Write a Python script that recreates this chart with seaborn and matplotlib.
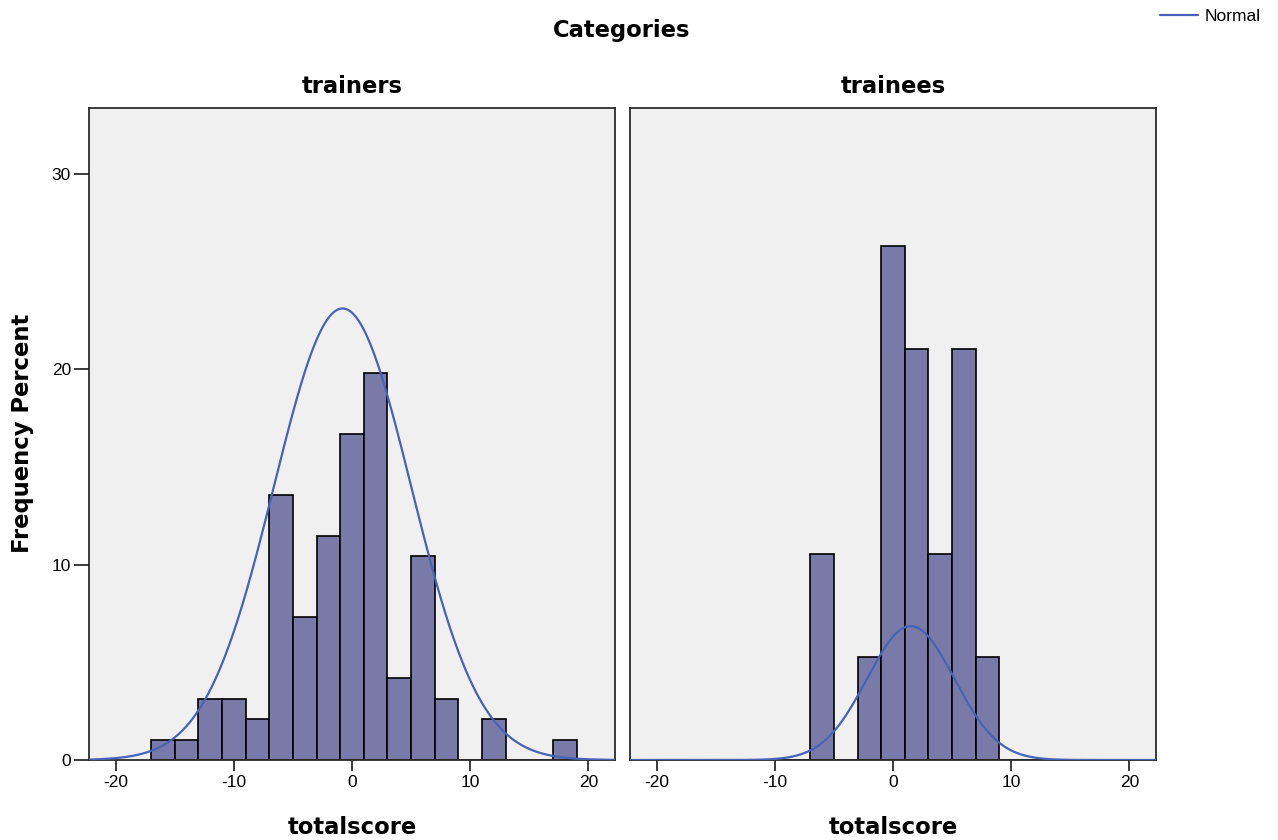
import numpy as np
import pandas as pd
import matplotlib
matplotlib.use("Agg")
import matplotlib.pyplot as plt
import seaborn as sns
from matplotlib.lines import Line2D

# ---------------- data ----------------
bin_edges = list(range(-17, 21, 2))          # -17, -15, ..., 19
bin_centers = [(bin_edges[i] + bin_edges[i + 1]) / 2 for i in range(len(bin_edges) - 1)]

panel_names = ["trainers", "trainees"]

trainers_pct = [1.04, 1.04, 3.13, 3.13, 2.08, 13.54, 7.29, 11.46, 16.67,
                19.79, 4.17, 10.42, 3.13, 0.0, 2.08, 0.0, 0.0, 1.04]
trainees_pct = [0.0, 0.0, 0.0, 0.0, 0.0, 10.53, 0.0, 5.26, 26.32,
                21.05, 10.53, 21.05, 5.26, 0.0, 0.0, 0.0, 0.0, 0.0]

# fitted normal curves (mean, sd, peak height in percent)
normal_mean = [-0.8, 1.5]
normal_sd = [5.8, 3.7]
normal_peak = [23.1, 6.85]

x_ticks = [-20, -10, 0, 10, 20]
y_ticks = [0, 10, 20, 30]

# ---------------- style ----------------
sns.set_theme(style="white")
plt.rcParams['font.family'] = ['Liberation Sans', 'DejaVu Sans']
plt.rcParams['text.color'] = 'black'
plt.rcParams['axes.labelcolor'] = 'black'
plt.rcParams['xtick.color'] = 'black'
plt.rcParams['ytick.color'] = 'black'

BAR_COLOR = "#7a7aa8"
CURVE_COLOR = "#4763b8"
BG = "#f0f0f0"
SPINE = "#2b2b2b"
BOLD = dict(family=['DejaVu Sans'], fontweight='bold', fontsize=16.3, color='black')

W, H = 1278, 840
fig = plt.figure(figsize=(W / 100, H / 100), dpi=100)
fig.patch.set_facecolor("white")

ax_left_px = [89, 630]
ax_w_px = 526
ax_top_px, ax_bot_px = 107.5, 760

data_frames = []
for name, pct in zip(panel_names, [trainers_pct, trainees_pct]):
    data_frames.append(pd.DataFrame({"totalscore": bin_centers, "pct": pct, "panel": name}))
df = pd.concat(data_frames, ignore_index=True)

axes = []
for i, name in enumerate(panel_names):
    ax = fig.add_axes([ax_left_px[i] / W, (H - ax_bot_px) / H,
                       ax_w_px / W, (ax_bot_px - ax_top_px) / H])
    axes.append(ax)
    ax.set_facecolor(BG)
    sub = df[df["panel"] == name]
    sns.histplot(data=sub, x="totalscore", weights="pct", bins=bin_edges,
                 ax=ax, color=BAR_COLOR, edgecolor="black", linewidth=1.2,
                 alpha=1.0, zorder=2)
    xs = np.linspace(-22.25, 22.25, 500)
    ys = normal_peak[i] * np.exp(-0.5 * ((xs - normal_mean[i]) / normal_sd[i]) ** 2)
    sns.lineplot(x=xs, y=ys, ax=ax, color=CURVE_COLOR, linewidth=1.6,
                 zorder=3, label="Normal" if i == 0 else None)
    ax.set_xlim(-22.25, 22.25)
    ax.set_ylim(0, 33.38)
    ax.set_xticks(x_ticks)
    ax.set_xticklabels([str(t) for t in x_ticks], fontsize=12.5, color='black')
    for s in ax.spines.values():
        s.set_color(SPINE)
        s.set_linewidth(1.3)
        s.set_visible(True)
    ax.tick_params(axis="x", direction="out", length=8, width=1.3,
                   color=SPINE, pad=3, bottom=True, labelcolor="black")
    if i == 0:
        ax.set_yticks(y_ticks)
        ax.set_yticklabels([str(t) for t in y_ticks], fontsize=12.5, color='black')
        ax.tick_params(axis="y", direction="out", length=11, width=1.3,
                       color=SPINE, pad=2, left=True, labelcolor="black")
        ax.set_ylabel("Frequency Percent", **BOLD)
        ax.yaxis.set_label_coords((22 - 89) / ax_w_px, 0.5)
        ax.yaxis.label.set_va("center")
    else:
        ax.set_yticks([])
        ax.set_ylabel("")
    ax.set_xlabel("totalscore", **BOLD)
    ax.xaxis.set_label_coords(0.5, (ax_bot_px - 834.5) / (ax_bot_px - ax_top_px))
    ax.xaxis.label.set_va("baseline")
    ax.set_title(name, pad=10.1, **BOLD)
    ax.grid(False)
    if ax.get_legend() is not None:
        ax.get_legend().remove()

fig.suptitle("Categories", x=622 / W, y=1 - 37.3 / H, va="baseline", **BOLD)

handle = Line2D([0], [0], color=CURVE_COLOR, linewidth=1.6)
fig.legend(handles=[handle], labels=["Normal"], loc="center left",
           bbox_to_anchor=(1160 / W, 1 - 16 / H), frameon=False,
           fontsize=12.5, borderpad=0, borderaxespad=0,
           handlelength=2.2, handletextpad=0.36, labelcolor='black')

fig.savefig("out.png", dpi=100, facecolor="white")
